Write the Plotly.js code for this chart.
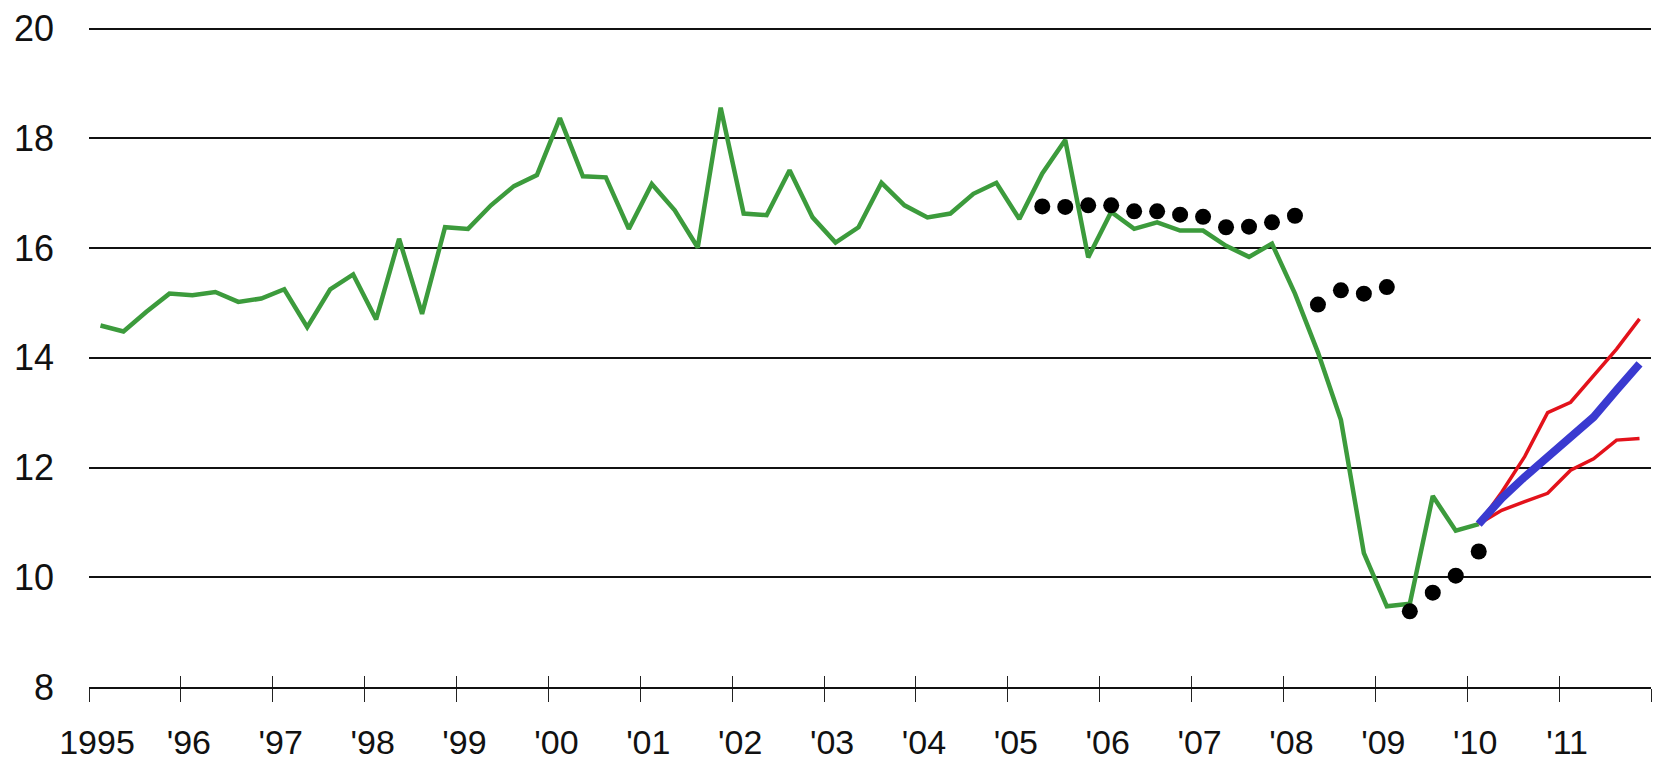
<!DOCTYPE html>
<html>
<head>
<meta charset="utf-8">
<script src="https://cdn.plot.ly/plotly-3.0.1.min.js"></script>
<style>
  html, body { margin: 0; padding: 0; background: #ffffff; }
  #chart { width: 1663px; height: 764px; }
</style>
</head>
<body>
<div id="chart"></div>
<script>
// ---- data (quarterly, first quarter of each series given by start year/quarter) ----
const greenStart = [1995, 1];
const greenValues = [
  14.59, 14.48, 14.84, 15.17,  15.14, 15.20, 15.02, 15.08,
  15.25, 14.56, 15.25, 15.52,  14.70, 16.17, 14.80, 16.38,
  16.35, 16.78, 17.13, 17.33,  18.37, 17.31, 17.29, 16.35,
  17.17, 16.69, 16.01, 18.56,  16.63, 16.60, 17.42, 16.56,
  16.10, 16.38, 17.19, 16.78,  16.56, 16.63, 16.99, 17.19,
  16.53, 17.36, 17.97, 15.83,  16.66, 16.35, 16.47, 16.32,
  16.32, 16.04, 15.84, 16.08,  15.17, 14.10, 12.87, 10.44,
  9.47, 9.52, 11.48, 10.85,   10.97
];

const dotsStart = [2005, 2];
const dotsValues = [
  16.76, 16.75, 16.78, 16.78, 16.67, 16.67, 16.61, 16.57, 16.38, 16.39, 16.47, 16.59,
  14.97, 15.23, 15.17, 15.29,
  9.38, 9.72, 10.03, 10.47
];

const forecastStart = [2010, 1];
const blueValues     = [10.97, 11.44, 11.83, 12.19, 12.56, 12.92, 13.41, 13.89];
const redUpperValues = [10.97, 11.55, 12.20, 13.00, 13.19, 13.67, 14.16, 14.71];
const redLowerValues = [10.97, 11.22, 11.38, 11.53, 11.95, 12.16, 12.50, 12.53];

const yearTicks  = [1995, 1996, 1997, 1998, 1999, 2000, 2001, 2002, 2003, 2004, 2005, 2006, 2007, 2008, 2009, 2010, 2011, 2012];
const yearLabels = ["1995", "'96", "'97", "'98", "'99", "'00", "'01", "'02", "'03", "'04", "'05", "'06", "'07", "'08", "'09", "'10", "'11", ""];
const yTicks = [8, 10, 12, 14, 16, 18, 20];

// quarter index -> mid-quarter position on the year axis
function quarterPositions(start, n) {
  const out = [];
  for (let i = 0; i < n; i++) {
    const qi = (start[1] - 1) + i;
    out.push(start[0] + (qi + 0.5) / 4);
  }
  return out;
}

const fontFam = "'Liberation Sans Narrow', 'Arial Narrow', 'Liberation Sans', Arial, sans-serif";

const traces = [
  {
    x: quarterPositions(greenStart, greenValues.length), y: greenValues,
    type: 'scatter', mode: 'lines',
    line: { color: '#3c9b3c', width: 4.5 }, hoverinfo: 'skip'
  },
  {
    x: quarterPositions(dotsStart, dotsValues.length), y: dotsValues,
    type: 'scatter', mode: 'markers',
    marker: { color: '#000000', size: 16 }, hoverinfo: 'skip'
  },
  {
    x: quarterPositions(forecastStart, redUpperValues.length), y: redUpperValues,
    type: 'scatter', mode: 'lines',
    line: { color: '#e3121b', width: 3.5 }, hoverinfo: 'skip'
  },
  {
    x: quarterPositions(forecastStart, redLowerValues.length), y: redLowerValues,
    type: 'scatter', mode: 'lines',
    line: { color: '#e3121b', width: 3.5 }, hoverinfo: 'skip'
  },
  {
    x: quarterPositions(forecastStart, blueValues.length), y: blueValues,
    type: 'scatter', mode: 'lines',
    line: { color: '#3a3ad0', width: 8 }, hoverinfo: 'skip'
  },
  {
    x: [], y: [], xaxis: 'x2', type: 'scatter', mode: 'lines', hoverinfo: 'skip'
  }
];

const layout = {
  width: 1663, height: 764,
  margin: { l: 89, r: 12, t: 27, b: 77, pad: 0 },
  paper_bgcolor: '#ffffff', plot_bgcolor: '#ffffff',
  showlegend: false,
  xaxis: {
    range: [1995, 2012], fixedrange: true,
    tickmode: 'array', tickvals: yearTicks, ticktext: yearLabels,
    showgrid: false, zeroline: false,
    showline: true, linecolor: '#111111', linewidth: 2,
    ticks: 'outside', ticklen: 13, tickwidth: 1, tickcolor: '#222222',
    ticklabelstandoff: 11, ticklabelshift: 8,
    tickfont: { family: fontFam, size: 34, color: '#111111' }
  },
  xaxis2: {
    range: [1995, 2012], fixedrange: true, overlaying: 'x', anchor: 'y', side: 'bottom',
    tickmode: 'array', tickvals: yearTicks,
    showgrid: false, zeroline: false, showline: false, showticklabels: false,
    ticks: 'inside', ticklen: 11, tickwidth: 1, tickcolor: '#222222'
  },
  yaxis: {
    range: [8, 20.03], fixedrange: true,
    tickmode: 'array', tickvals: yTicks,
    showgrid: true, gridcolor: '#111111', gridwidth: 2,
    zeroline: false, showline: false, ticks: '',
    ticklabelstandoff: 34,
    tickfont: { family: fontFam, size: 36, color: '#111111' }
  }
};

Plotly.newPlot('chart', traces, layout, { displayModeBar: false, staticPlot: true });
</script>
</body>
</html>
